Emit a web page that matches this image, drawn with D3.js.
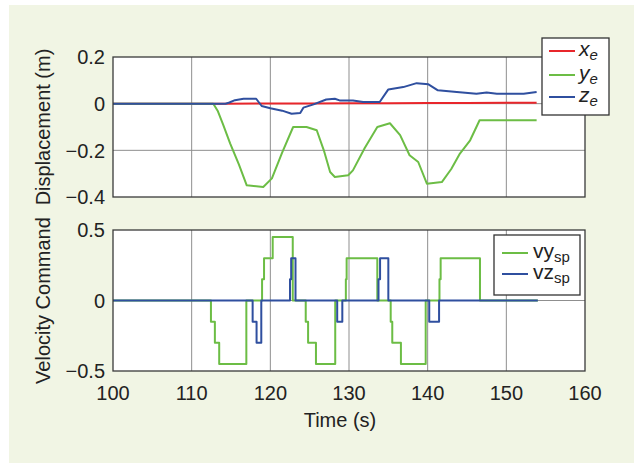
<!DOCTYPE html>
<html><head><meta charset="utf-8">
<script src="https://cdn.jsdelivr.net/npm/d3@7"></script>
<style>body{margin:0;background:#fff}svg{display:block}text{font-family:"Liberation Sans",Arial,sans-serif;fill:#222}</style>
</head><body>
<script>
// ---- data ----
const xTicks = [100,110,120,130,140,150,160];
const topYTicks = [0.2,0,-0.2,-0.4];
const botYTicks = [0.5,0,-0.5];
const xeT = [100,114,120,125,130,135,140,145,150,153.85];
const xeV = [0,0,0.001,0.001,0.002,0.002,0.003,0.003,0.004,0.004];
const yeT = [100,112.75,113.3,114.0,114.9,116.0,117.0,119.1,120.2,121.5,122.9,124.6,125.9,126.8,127.6,128.2,129.9,130.5,132.0,133.6,135.2,136.5,137.7,138.8,139.9,141.8,143.0,144.1,145.4,146.6,153.85];
const yeV = [0,0,-0.03,-0.09,-0.171,-0.26,-0.35,-0.357,-0.32,-0.21,-0.10,-0.10,-0.114,-0.2,-0.293,-0.314,-0.307,-0.286,-0.19,-0.1,-0.084,-0.135,-0.221,-0.25,-0.343,-0.336,-0.28,-0.214,-0.157,-0.071,-0.071];
const zeT = [100,114.3,114.8,115.5,116.6,118.2,118.9,120,121.5,122.7,123.8,124.2,125.5,127.1,128.2,128.8,130.5,131.8,133.9,135.0,136.9,138.6,140.1,141.3,143.7,146.2,147.5,148.8,152.2,153.85];
const zeV = [0,0,0.005,0.015,0.021,0.021,-0.01,-0.02,-0.03,-0.043,-0.04,-0.017,-0.003,0.018,0.021,0.014,0.014,0.007,0.007,0.061,0.071,0.088,0.083,0.057,0.05,0.043,0.048,0.043,0.043,0.05];
const vyT = [100,112.45,112.95,113.5,116.95,118.95,119.2,120.3,122.85,124.5,124.8,125.8,128.25,129.6,129.7,133.6,135.3,135.5,136.6,139.75,141.5,141.65,146.65,154];
const vyV = [0,-0.15,-0.3,-0.45,0,0.15,0.3,0.45,0,-0.15,-0.3,-0.45,0,0.15,0.3,0,-0.15,-0.3,-0.45,0,0.15,0.3,0,0];
const vzT = [100,117.75,118.25,118.85,122.5,122.65,123.2,128.5,129.15,133.75,133.95,135.0,140.2,141.45,154];
const vzV = [0,-0.15,-0.3,0,0.15,0.3,0,-0.15,0,0.15,0.3,0,-0.15,0,0];
const topSeries = [
  {name:"x", sub:"e", t:xeT, v:xeV, color:"#e8262b"},
  {name:"y", sub:"e", t:yeT, v:yeV, color:"#6cbd45"},
  {name:"z", sub:"e", t:zeT, v:zeV, color:"#2f4f9f"}
];
const botSeries = [
  {name:"vy", sub:"sp", t:vyT, v:vyV, color:"#6cbd45"},
  {name:"vz", sub:"sp", t:vzT, v:vzV, color:"#2f4f9f"}
];

// ---- layout ----
const W=634,H=463;
const svg=d3.select("body").append("svg").attr("width",W).attr("height",H);
svg.append("rect").attr("x",9).attr("y",5).attr("width",W-9).attr("height",H-5).attr("fill","#f1f5e4");

const x=d3.scaleLinear().domain([100,160]).range([113,585]);
const yTop=d3.scaleLinear().domain([-0.4,0.2]).range([197,57]);
const yBot=d3.scaleLinear().domain([-0.5,0.5]).range([371,230]);

function panel(y, yTicks, series, curve, label, showX){
  const [y0,y1]=[y.range()[1],y.range()[0]];
  const g=svg.append("g");
  g.append("rect").attr("x",113).attr("y",y0).attr("width",472).attr("height",y1-y0).attr("fill","#fff");
  g.append("g").selectAll("line").data(xTicks.slice(1,-1)).join("line")
    .attr("x1",d=>x(d)).attr("x2",d=>x(d)).attr("y1",y0).attr("y2",y1)
    .attr("stroke","#8f8f8f").attr("stroke-width",1);
  g.append("g").selectAll("line").data(yTicks.filter(d=>d!==y.domain()[0]&&d!==y.domain()[1])).join("line")
    .attr("x1",113).attr("x2",585).attr("y1",d=>y(d)).attr("y2",d=>y(d))
    .attr("stroke","#8f8f8f").attr("stroke-width",1);
  const line=d3.line().x(d=>x(d[0])).y(d=>y(d[1])).curve(curve);
  series.forEach(s=>{
    g.append("path").datum(s.t.map((t,i)=>[t,s.v[i]])).attr("d",line)
      .attr("fill","none").attr("stroke",s.color).attr("stroke-width",2).attr("stroke-linejoin","round");
  });
  g.append("rect").attr("x",113).attr("y",y0).attr("width",472).attr("height",y1-y0)
    .attr("fill","none").attr("stroke","#3a3a3a").attr("stroke-width",1.3);
  g.append("g").selectAll("text").data(yTicks).join("text")
    .attr("x",105).attr("y",d=>y(d)).attr("dy","0.36em").attr("text-anchor","end")
    .attr("font-size",20).text(d=>d===0?"0":d3.format(".1f")(d).replace("-","\u2212"));
  g.append("text").attr("transform",`translate(50,${(y0+y1)/2}) rotate(-90)`)
    .attr("text-anchor","middle").attr("font-size",20).text(label);
  if(showX){
    g.append("g").selectAll("text").data(xTicks).join("text")
      .attr("x",d=>x(d)).attr("y",400).attr("text-anchor","middle").attr("font-size",20).text(d=>d);
  }
}
panel(yTop, topYTicks, topSeries, d3.curveLinear, "Displacement (m)", false);
panel(yBot, botYTicks, botSeries, d3.curveStepAfter, "Velocity Command", true);
svg.append("text").attr("x",340).attr("y",427).attr("text-anchor","middle").attr("font-size",20).text("Time (s)");

function legend(series, bx, by, bw, bh, lx1, lx2, tx, rows, fs, subfs, italic, subdy){
  const g=svg.append("g");
  g.append("rect").attr("x",bx).attr("y",by).attr("width",bw).attr("height",bh)
    .attr("fill","#fff").attr("stroke","#333").attr("stroke-width",1.3);
  series.forEach((s,i)=>{
    g.append("line").attr("x1",lx1).attr("x2",lx2).attr("y1",rows[i]).attr("y2",rows[i])
      .attr("stroke",s.color).attr("stroke-width",2);
    const t=g.append("text").attr("x",tx).attr("y",rows[i]+5).attr("font-size",fs)
      .attr("font-style",italic?"italic":"normal");
    t.append("tspan").text(s.name);
    t.append("tspan").attr("font-size",subfs).attr("dy",subdy).text(s.sub);
  });
}
legend(topSeries, 542, 38, 67, 77, 549, 575, 579, [51,75,97], 21, 15, true, 4);
legend(botSeries, 494, 235, 86, 60, 502, 528, 533, [253,274], 21, 15, false, 4);
</script>
</body></html>
